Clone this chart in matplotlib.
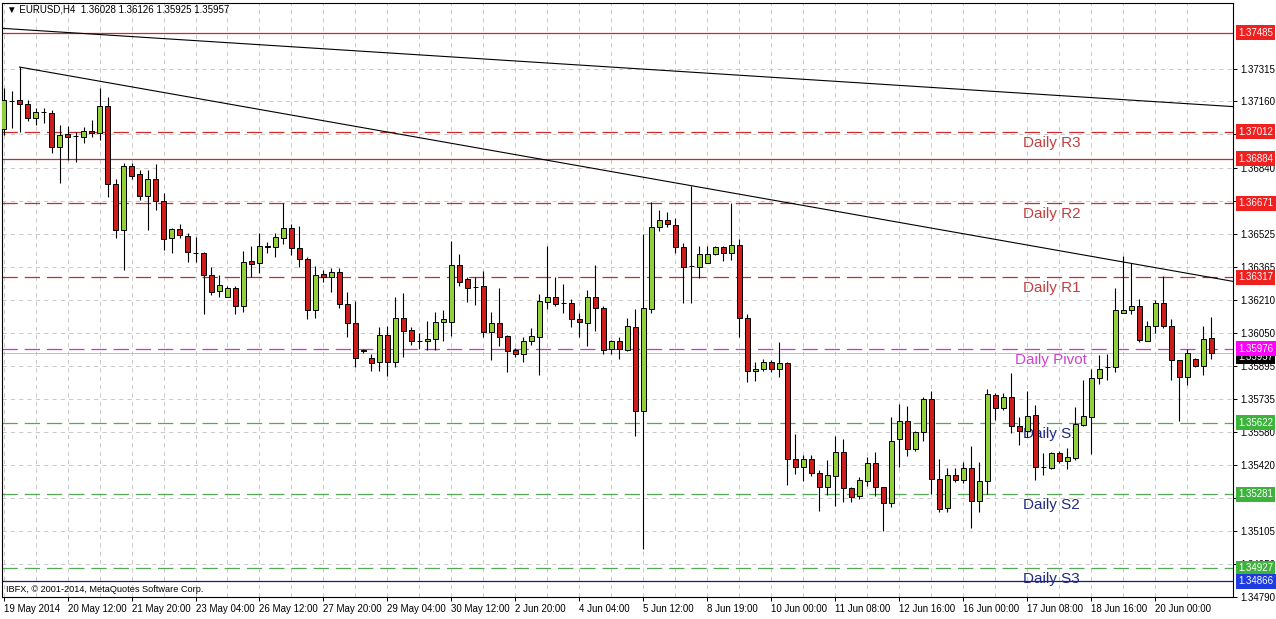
import matplotlib
matplotlib.use('Agg')
import matplotlib.pyplot as plt
from matplotlib.transforms import blended_transform_factory, offset_copy
import numpy as np

plt.rcParams['font.family'] = ['Liberation Sans', 'DejaVu Sans']
plt.rcParams['lines.scale_dashes'] = False

# ---------------- data ----------------
symbol = "EURUSD,H4"
copyright_text = "IBFX, \u00a9 2001-2014, MetaQuotes Software Corp."

date_labels = ["19 May 2014", "20 May 12:00", "21 May 20:00", "23 May 04:00", "26 May 12:00",
               "27 May 20:00", "29 May 04:00", "30 May 12:00", "2 Jun 20:00", "4 Jun 04:00",
               "5 Jun 12:00", "8 Jun 19:00", "10 Jun 00:00", "11 Jun 08:00", "12 Jun 16:00",
               "16 Jun 00:00", "17 Jun 08:00", "18 Jun 16:00", "20 Jun 00:00"]

opens = [1.37027, 1.37160, 1.37165, 1.37146, 1.37079, 1.37108, 1.37103, 1.36941, 1.37003, 1.36993,
         1.36989, 1.37017, 1.37008, 1.37136, 1.36764, 1.36545, 1.36850, 1.36812, 1.36707, 1.36788,
         1.36683, 1.36507, 1.36550, 1.36516, 1.36435, 1.36435, 1.36330, 1.36254, 1.36225, 1.36264,
         1.36178, 1.36397, 1.36387, 1.36464, 1.36464, 1.36507, 1.36554, 1.36459, 1.36407, 1.36163,
         1.36335, 1.36321, 1.36345, 1.36192, 1.36101, 1.35968, 1.35930, 1.35911, 1.36044, 1.35911,
         1.36125, 1.36068, 1.36015, 1.36011, 1.36025, 1.36106, 1.36106, 1.36378, 1.36311, 1.36273,
         1.36278, 1.36058, 1.36097, 1.36039, 1.35968, 1.35953, 1.36011, 1.36034, 1.36201, 1.36225,
         1.36197, 1.36197, 1.36116, 1.36101, 1.36225, 1.36173, 1.35977, 1.36011, 1.35972, 1.36082,
         1.35677, 1.36168, 1.36559, 1.36593, 1.36569, 1.36464, 1.36373, 1.36368, 1.36387, 1.36430,
         1.36464, 1.36435, 1.36473, 1.36125, 1.35868, 1.35881, 1.35911, 1.35881, 1.35906, 1.35448,
         1.35410, 1.35448, 1.35381, 1.35314, 1.35367, 1.35481, 1.35310, 1.35271, 1.35343, 1.35429,
         1.35314, 1.35238, 1.35543, 1.35629, 1.35496, 1.35577, 1.35734, 1.35352, 1.35214, 1.35371,
         1.35348, 1.35405, 1.35247, 1.35343, 1.35753, 1.35691, 1.35744, 1.35605, 1.35582, 1.35658,
         1.35410, 1.35405, 1.35476, 1.35438, 1.35453, 1.35610, 1.35648, 1.35834, 1.35888, 1.35891,
         1.36149, 1.36159, 1.36178, 1.36015, 1.36087, 1.36197, 1.36087, 1.35920, 1.35839, 1.35925,
         1.35896, 1.36028]

highs = [1.37222, 1.37208, 1.37322, 1.37165, 1.37127, 1.37127, 1.37117, 1.37046, 1.37041, 1.37012,
         1.37036, 1.37070, 1.37222, 1.37179, 1.36788, 1.36865, 1.36865, 1.36831, 1.36831, 1.36860,
         1.36721, 1.36552, 1.36574, 1.36531, 1.36512, 1.36437, 1.36368, 1.36330, 1.36278, 1.36278,
         1.36445, 1.36468, 1.36531, 1.36488, 1.36531, 1.36674, 1.36574, 1.36564, 1.36416, 1.36373,
         1.36354, 1.36364, 1.36364, 1.36249, 1.36206, 1.35977, 1.35953, 1.36082, 1.36087, 1.36225,
         1.36244, 1.36082, 1.36049, 1.36111, 1.36154, 1.36163, 1.36492, 1.36430, 1.36321, 1.36321,
         1.36349, 1.36154, 1.36268, 1.36044, 1.35982, 1.36034, 1.36073, 1.36240, 1.36468, 1.36321,
         1.36287, 1.36216, 1.36149, 1.36259, 1.36378, 1.36182, 1.36017, 1.36034, 1.36125, 1.36168,
         1.36526, 1.36678, 1.36640, 1.36631, 1.36602, 1.36483, 1.36755, 1.36468, 1.36468, 1.36468,
         1.36468, 1.36674, 1.36502, 1.36144, 1.35911, 1.35925, 1.35920, 1.36006, 1.35911, 1.35567,
         1.35467, 1.35467, 1.35395, 1.35443, 1.35557, 1.35543, 1.35314, 1.35362, 1.35457, 1.35481,
         1.35316, 1.35648, 1.35710, 1.35701, 1.35582, 1.35744, 1.35772, 1.35448, 1.35405, 1.35405,
         1.35433, 1.35510, 1.35433, 1.35782, 1.35763, 1.35763, 1.35858, 1.35648, 1.35772, 1.35705,
         1.35476, 1.35481, 1.35486, 1.35500, 1.35696, 1.35825, 1.35881, 1.35944, 1.35953, 1.36264,
         1.36421, 1.36387, 1.36216, 1.36111, 1.36211, 1.36325, 1.36120, 1.35922, 1.35977, 1.35930,
         1.36087, 1.36126]

lows = [1.36998, 1.37031, 1.37012, 1.37065, 1.37046, 1.37055, 1.36912, 1.36769, 1.36879, 1.36869,
        1.36960, 1.36989, 1.36974, 1.36702, 1.36507, 1.36354, 1.36788, 1.36688, 1.36545, 1.36637,
        1.36450, 1.36435, 1.36507, 1.36392, 1.36392, 1.36140, 1.36235, 1.36221, 1.36224, 1.36140,
        1.36154, 1.36321, 1.36340, 1.36435, 1.36416, 1.36478, 1.36426, 1.36368, 1.36116, 1.36125,
        1.36297, 1.36249, 1.36173, 1.36034, 1.35891, 1.35958, 1.35868, 1.35868, 1.35844, 1.35891,
        1.35939, 1.35992, 1.35977, 1.35972, 1.35972, 1.36015, 1.36039, 1.36278, 1.36201, 1.36187,
        1.36034, 1.35920, 1.35987, 1.35863, 1.35939, 1.35915, 1.35992, 1.35853, 1.36168, 1.36182,
        1.36149, 1.36082, 1.36030, 1.35987, 1.36063, 1.35953, 1.35949, 1.35925, 1.35963, 1.35557,
        1.35019, 1.36149, 1.36540, 1.36559, 1.36435, 1.36197, 1.36197, 1.36316, 1.36386, 1.36426,
        1.36397, 1.36402, 1.36030, 1.35815, 1.35820, 1.35868, 1.35863, 1.35839, 1.35324, 1.35376,
        1.35343, 1.35367, 1.35200, 1.35278, 1.35224, 1.35243, 1.35243, 1.35257, 1.35319, 1.35271,
        1.35104, 1.35219, 1.35410, 1.35462, 1.35486, 1.35534, 1.35283, 1.35195, 1.35195, 1.35338,
        1.35333, 1.35119, 1.35195, 1.35281, 1.35634, 1.35682, 1.35572, 1.35515, 1.35553, 1.35348,
        1.35371, 1.35400, 1.35429, 1.35400, 1.35443, 1.35605, 1.35472, 1.35810, 1.35829, 1.35863,
        1.36148, 1.36144, 1.36006, 1.36011, 1.36049, 1.36077, 1.35829, 1.35629, 1.35805, 1.35891,
        1.35853, 1.35925]

closes = [1.37165, 1.37162, 1.37146, 1.37079, 1.37108, 1.37106, 1.36941, 1.36998, 1.36989, 1.36994,
          1.37017, 1.37008, 1.37136, 1.36764, 1.36545, 1.36850, 1.36803, 1.36707, 1.36788, 1.36683,
          1.36502, 1.36550, 1.36521, 1.36440, 1.36434, 1.36330, 1.36249, 1.36283, 1.36264, 1.36182,
          1.36392, 1.36383, 1.36468, 1.36465, 1.36512, 1.36554, 1.36459, 1.36407, 1.36163, 1.36330,
          1.36321, 1.36345, 1.36192, 1.36097, 1.35930, 1.35966, 1.35906, 1.36044, 1.35911, 1.36125,
          1.36063, 1.36011, 1.36014, 1.36025, 1.36106, 1.36116, 1.36378, 1.36297, 1.36268, 1.36272,
          1.36058, 1.36097, 1.36034, 1.35963, 1.35949, 1.36011, 1.36039, 1.36206, 1.36225, 1.36192,
          1.36196, 1.36116, 1.36106, 1.36221, 1.36173, 1.35972, 1.36015, 1.35977, 1.36087, 1.35677,
          1.36173, 1.36559, 1.36593, 1.36574, 1.36464, 1.36368, 1.36372, 1.36430, 1.36430, 1.36464,
          1.36435, 1.36473, 1.36125, 1.35868, 1.35881, 1.35911, 1.35881, 1.35906, 1.35448, 1.35410,
          1.35448, 1.35381, 1.35314, 1.35371, 1.35481, 1.35310, 1.35267, 1.35348, 1.35429, 1.35314,
          1.35238, 1.35534, 1.35629, 1.35496, 1.35577, 1.35734, 1.35352, 1.35209, 1.35371, 1.35348,
          1.35405, 1.35247, 1.35343, 1.35758, 1.35691, 1.35744, 1.35605, 1.35582, 1.35653, 1.35410,
          1.35409, 1.35476, 1.35438, 1.35457, 1.35615, 1.35653, 1.35834, 1.35881, 1.35887, 1.36159,
          1.36159, 1.36178, 1.36020, 1.36087, 1.36197, 1.36087, 1.35920, 1.35839, 1.35958, 1.35896,
          1.36025, 1.35957]

# price scale ticks; labels that the level boxes cover entirely are left blank
price_ticks = [1.37315, 1.37160, 1.37000, 1.36840, 1.36680, 1.36525, 1.36365, 1.36210, 1.36050,
               1.35895, 1.35735, 1.35580, 1.35420, 1.35265, 1.35105, 1.34950, 1.34790]
price_tick_labels = ["1.37315", "1.37160", "", "1.36840", "", "1.36525", "1.36365", "1.36210",
                     "1.36050", "1.35895", "1.35735", "1.35580", "1.35420", "", "1.35105",
                     "1.34950", "1.34790"]

level_values = [1.37485, 1.37012, 1.36884, 1.36671, 1.36317, 1.35976, 1.35622, 1.35281, 1.34927, 1.34866]
level_names = ["", "Daily R3", "", "Daily R2", "Daily R1", "Daily Pivot", "Daily S1", "Daily S2", "Daily S3", ""]

# trend lines (bar index, price)
trend_main_bars = [2, 86]
trend_main_prices = [1.37322, 1.36755]
trend_upper_bars = [-0.2, 153.7]
trend_upper_prices = [1.37507, 1.37133]

# ---------------- styles ----------------
RED_LINE = '#cc2a2a'
GREEN_LINE = '#55a855'
MAGENTA_LINE = '#cc33cc'
NAVY_LINE = '#1c1c6e'
DASH = (0, (11, 5))
level_styles = [
    dict(color=RED_LINE, ls='-'),
    dict(color=RED_LINE, ls=DASH),
    dict(color=RED_LINE, ls='-'),
    dict(color=RED_LINE, ls=DASH),
    dict(color=RED_LINE, ls=DASH),
    dict(color=MAGENTA_LINE, ls=DASH),
    dict(color=GREEN_LINE, ls=DASH),
    dict(color=GREEN_LINE, ls=DASH),
    dict(color=GREEN_LINE, ls=DASH),
    dict(color=NAVY_LINE, ls='-'),
]
box_colors = ['#ee2020', '#ee2020', '#ee2020', '#ee2020', '#ee2020', '#ff00ff',
              '#3cb43c', '#3cb43c', '#3cb43c', '#1e3ce0']
text_colors = [None, '#c04040', None, '#c04040', '#c04040', '#cc44cc',
               '#1f2a80', '#1f2a80', '#1f2a80', None]

W, H = 1276, 619
fig = plt.figure(figsize=(W / 100, H / 100), dpi=100)
ax = fig.add_axes([2 / W, (H - 597) / H, (1233 - 2) / W, (597 - 3) / H])

x = np.arange(len(opens))
o = np.array(opens)
c = np.array(closes)
up = c >= o

xl = (-0.19, 153.7)
ax.set_xlim(*xl)
ax.set_ylim(1.34794, 1.37628)

# grid / ticks
ax.set_xticks(np.arange(0, len(date_labels) * 8, 8))
ax.set_xticklabels(date_labels)
ax.set_xticks(np.arange(4, 154, 8), minor=True)
ax.set_yticks(price_ticks)
ax.set_yticklabels(price_tick_labels)
ax.grid(True, which='both', color='#c8c8c8', lw=0.7, ls=(0, (3, 3)), zorder=0)
ax.set_axisbelow(True)

ax.yaxis.tick_right()
ax.tick_params(axis='y', which='major', length=3, width=0.7, pad=2, labelsize=7, direction='out')
ax.tick_params(axis='x', which='major', length=3, width=0.7, pad=2, labelsize=7, direction='out')
ax.tick_params(axis='x', which='minor', length=0)
for lab in ax.get_xticklabels():
    lab.set_horizontalalignment('left')
for s in ax.spines.values():
    s.set_linewidth(0.8)
    s.set_color('black')

# levels
for v, st in zip(level_values, level_styles):
    ax.axhline(v, color=st['color'], ls=st['ls'], lw=0.9, zorder=1.5)
# bid line
ax.axhline(closes[-1], color='#c0c0c0', lw=0.7, zorder=1.4)

# level names (behind candles)
name_x = 131
for v, name, tc in zip(level_values, level_names, text_colors):
    if name:
        tr = offset_copy(ax.transData, fig=fig, x=0, y=-4, units='dots')
        ax.text(name_x, v, name, color=tc, fontsize=11, ha='center', va='top',
                transform=tr, zorder=2)

# trend lines
slope = (trend_main_prices[1] - trend_main_prices[0]) / (trend_main_bars[1] - trend_main_bars[0])
ax.plot([trend_main_bars[0], xl[1]],
        [trend_main_prices[0], trend_main_prices[0] + slope * (xl[1] - trend_main_bars[0])],
        color='black', lw=0.8, zorder=5)
ax.plot(trend_upper_bars, trend_upper_prices, color='black', lw=0.8, zorder=5)

# candles
ax.vlines(x, lows, highs, color='black', lw=0.8, zorder=3)
ax.bar(x[up], (c - o)[up], bottom=o[up], width=0.58, color='#92d03a',
       edgecolor='black', linewidth=0.7, zorder=4)
ax.bar(x[~up], (o - c)[~up], bottom=c[~up], width=0.58, color='#cd1c1c',
       edgecolor='black', linewidth=0.7, zorder=4)

# price boxes on the right axis
btr = blended_transform_factory(ax.transAxes, ax.transData)
btr = offset_copy(btr, fig=fig, x=5, y=0, units='dots')
ax.text(1.0, closes[-1], f"{closes[-1]:.5f}", transform=offset_copy(btr, fig=fig, x=0, y=-4, units='dots'),
        color='white', fontsize=7, ha='left', va='center', zorder=9, clip_on=False,
        bbox=dict(boxstyle='square,pad=0.25', fc='black', ec='none'))
for v, bc in zip(level_values, box_colors):
    ax.text(1.0, v, f"{v:.5f}", transform=btr, color='white', fontsize=7,
            ha='left', va='center', zorder=10, clip_on=False,
            bbox=dict(boxstyle='square,pad=0.25', fc=bc, ec='none'))

# header and copyright
fig.text(7 / W, 1 - 10 / H, "\u25bc " + symbol + "  " +
         " ".join(f"{v:.5f}" for v in (opens[-1], highs[-1], lows[-1], closes[-1])),
         fontsize=7, ha='left', va='center', color='black')
fig.text(6 / W, 1 - 590 / H, copyright_text, fontsize=6.6, ha='left', va='center', color='black')

fig.savefig('out.png', dpi=100, facecolor='white')
